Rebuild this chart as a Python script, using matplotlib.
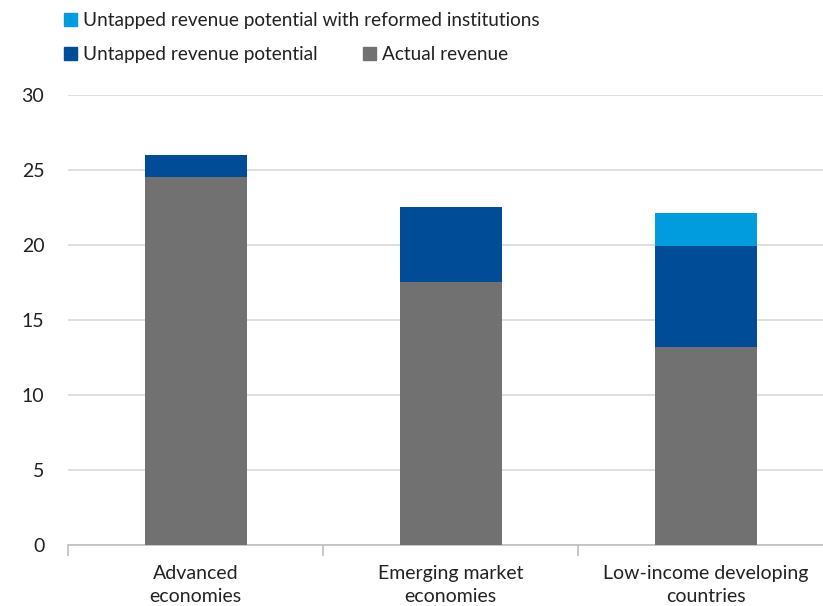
import matplotlib.pyplot as plt
from matplotlib.patches import Patch

plt.rcParams['font.family'] = ['Lato', 'DejaVu Sans']

categories = ["Advanced\neconomies", "Emerging market\neconomies", "Low-income developing\ncountries"]
actual = [24.5, 17.5, 13.2]
untapped = [1.5, 5.0, 6.7]
reformed = [0.0, 0.0, 2.2]

c_actual = "#717171"
c_untapped = "#004C97"
c_reformed = "#009CDE"
txt = "#222222"

fig = plt.figure(figsize=(8.23, 6.06), dpi=100)
ax = fig.add_axes([0.0826, 0.1007, 0.9174, 0.7426])

x = range(len(categories))
w = 0.4
ax.bar(x, actual, width=w, color=c_actual, zorder=3)
ax.bar(x, untapped, width=w, bottom=actual, color=c_untapped, zorder=3)
bottom2 = [a + u for a, u in zip(actual, untapped)]
ax.bar(x, reformed, width=w, bottom=bottom2, color=c_reformed, zorder=3)

ax.set_xlim(-0.5, 2.46)
ax.set_ylim(0, 30)
ax.set_yticks(range(0, 31, 5))
ax.yaxis.grid(True, color="#d9d9d9", linewidth=1.2)
ax.set_axisbelow(True)
for s in ["top", "right", "left"]:
    ax.spines[s].set_visible(False)
ax.spines["bottom"].set_color("#bfbfbf")
ax.spines["bottom"].set_linewidth(1.2)
ax.tick_params(axis="y", length=0, pad=17, labelsize=14, colors=txt)

# category boundary ticks on the x axis
ax.set_xticks([-0.5, 0.5, 1.5])
ax.set_xticklabels([])
ax.tick_params(axis="x", length=8, color="#bfbfbf", width=1.2)
for i, lab in enumerate(categories):
    ax.text(i, -1.35, lab, ha="center", va="top", fontsize=14,
            color=txt, linespacing=1.4)

fig.legend(handles=[Patch(color=c_reformed)],
           labels=["Untapped revenue potential with reformed institutions"],
           loc="upper left", bbox_to_anchor=(0.068, 0.992), frameon=False,
           fontsize=13.7, handlelength=0.7, handleheight=0.7, handletextpad=0.3,
           borderaxespad=0, labelcolor=txt)
fig.legend(handles=[Patch(color=c_untapped), Patch(color=c_actual)],
           labels=["Untapped revenue potential", "Actual revenue"],
           loc="upper left", bbox_to_anchor=(0.068, 0.936), frameon=False, ncol=2,
           fontsize=13.7, handlelength=0.7, handleheight=0.7, handletextpad=0.3,
           columnspacing=2.4, borderaxespad=0, labelcolor=txt)

fig.savefig("out.png", dpi=100)
